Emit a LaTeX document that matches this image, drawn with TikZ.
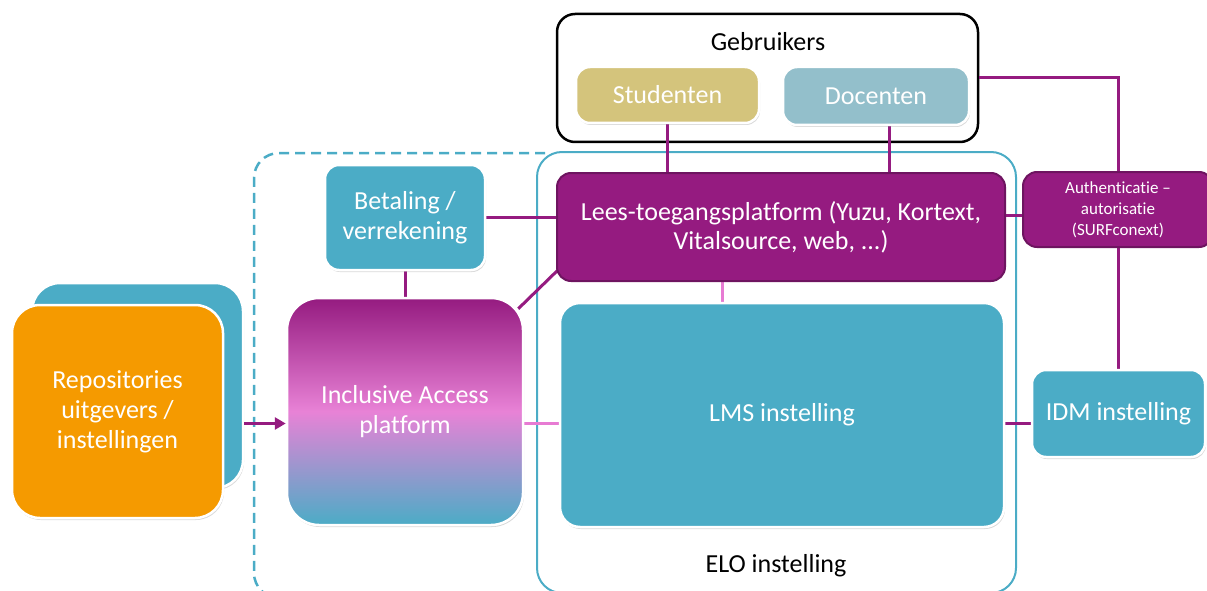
\documentclass[tikz,border=0pt]{standalone}
\usepackage{fontspec}
\setmainfont{Carlito}[Ligatures=NoCommon]
\usepackage{tikz}
\usetikzlibrary{calc}
\usetikzlibrary{positioning}
\usetikzlibrary{shadows}
\usetikzlibrary{arrows.meta}
\definecolor{eloteal}{HTML}{4BACC6}
\definecolor{leespurple}{HTML}{951B80}
\definecolor{leesedge}{HTML}{6E1460}
\definecolor{linkpink}{HTML}{E77BD3}
\definecolor{iapink}{HTML}{E882D6}
\definecolor{repoorange}{HTML}{F59A00}
\definecolor{studkhaki}{HTML}{D4C47C}
\definecolor{docblue}{HTML}{93BFCB}
\pgfdeclarelayer{back}
\pgfdeclarelayer{wires}
\pgfsetlayers{back,wires,main}

\begin{document}
\begin{tikzpicture}[x=1pt, y=-1pt]

                \def\bigfont{\fontsize{26}{30}\selectfont}
                \def\smallfont{\fontsize{17}{21}\selectfont}

                % Box looks: white edged blocks, purple blocks, the
                % frames round groups and the purple links
                \tikzset{
                    box/.style={rounded corners=14pt, draw=white,
                        line width=2.5pt, text=white, align=center,
                        inner sep=0pt, font=\bigfont,
                        drop shadow={shadow xshift=1pt,
                            shadow yshift=-2pt, opacity=0.3}},
                    darkbox/.style={rounded corners=14pt, draw=leesedge,
                        line width=2pt, fill=leespurple, text=white,
                        align=center, inner sep=0pt, font=\bigfont},
                    plain/.style={font=\bigfont, text=black, inner sep=0pt},
                    userbox/.style={rounded corners=18pt, draw=black,
                        line width=2.5pt},
                    elobox/.style={rounded corners=25pt, draw=eloteal,
                        line width=2pt},
                    dashbox/.style={rounded corners=25pt, draw=eloteal,
                        line width=2.5pt, dash pattern=on 10pt off 6pt},
                    wire/.style={draw=leespurple, line width=3pt},
                    pinkwire/.style={draw=linkpink, line width=3pt}
                }

                \useasboundingbox (0,0) rectangle (1207,591);

                % Frames behind the blocks
                \begin{pgfonlayer}{back}
                    \draw[dashbox] (545,153) -| (254,598) -- (330,598);
                    \node (elo) [elobox, minimum width=479,
                    minimum height=441] at (776.5,372.5) {};
                    \node (gebr) [userbox, minimum width=421,
                    minimum height=128] at (767.5,78) {};
                \end{pgfonlayer}
                \node (gebrlbl) [plain] at (768,42) {Gebruikers};
                \node (elolbl) [plain] at (776,566) {ELO instelling};

                % Blocks
                \node (stud) [box, fill=studkhaki, minimum width=183,
                minimum height=56] at (667.5,95) {Studenten};
                \node (doc) [box, fill=docblue, minimum width=186,
                minimum height=58] at (876,96) {Docenten};
                \node (lees) [darkbox, minimum width=448,
                minimum height=108, font=\fontsize{26}{29}\selectfont]
                at (781,227)
                {Lees-toegangsplatform (Yuzu, Kortext,\\Vitalsource, web, ...)};
                \node (auth) [darkbox, minimum width=190, minimum height=75,
                font=\smallfont] at (1118,209.5)
                {Authenticatie \textendash\\autorisatie\\(SURFconext)};
                \node (bet) [box, fill=eloteal, minimum width=160,
                minimum height=105] at (405,217.5) {Betaling /\\verrekening};
                \node (ia) [box, rounded corners=32pt, top color=leespurple,
                bottom color=eloteal, middle color=iapink, minimum width=236,
                minimum height=227] at (405,411.5)
                {Inclusive Access\\platform};
                \node (lms) [box, rounded corners=20pt, fill=eloteal,
                minimum width=444, minimum height=224] at (782,415)
                {LMS instelling};
                \node (idm) [box, fill=eloteal, minimum width=173,
                minimum height=87] at (1118.5,413.5) {IDM instelling};
                \node (repoback) [box, rounded corners=28pt, fill=eloteal,
                minimum width=211, minimum height=205] at (137.5,385.5) {};
                \node (repo) [box, rounded corners=28pt, fill=repoorange,
                minimum width=211, minimum height=213] at (117.5,411.5)
                {Repositories\\uitgevers /\\instellingen};

                % Links
                \begin{pgfonlayer}{wires}
                    \draw[wire] (stud.south) -- (stud.south |- lees.north);
                    \coordinate (docout) at ($(doc.south)+(13,0)$);
                    \draw[wire] (docout) -- (docout |- lees.north);
                    \draw[wire] (gebr.east) -| (auth.north);
                    \draw[wire] (auth.south) -- (auth.south |- idm.north);
                    \coordinate (authin) at ($(auth.west)+(0,6)$);
                    \draw[wire] (authin) -- (authin -| lees.east);
                    \draw[wire] (bet.east) -- (bet.east -| lees.west);
                    \draw[wire] (bet.south) -- (bet.south |- ia.north);
                    \draw[wire] ($(ia.north east)+(-6,12)$)
                    -- ($(lees.south west)+(3,-13)$);
                    \coordinate (lmsin) at ($(ia.east)+(0,12)$);
                    \draw[pinkwire] (lmsin) -- (lmsin -| lms.west);
                    \coordinate (leesout) at ($(lees.south)+(-59,0)$);
                    \draw[pinkwire] (leesout) -- (leesout |- lms.north);
                    \coordinate (idmin) at ($(idm.west)+(0,10)$);
                    \draw[wire] (idmin) -- (idmin -| lms.east);
                \end{pgfonlayer}
                \coordinate (iain) at ($(ia.west)+(0,12)$);
                \draw[wire, -{Triangle[length=11pt, width=12pt]}]
                (iain -| repoback.east) -- (iain);

\end{tikzpicture}
\end{document}
